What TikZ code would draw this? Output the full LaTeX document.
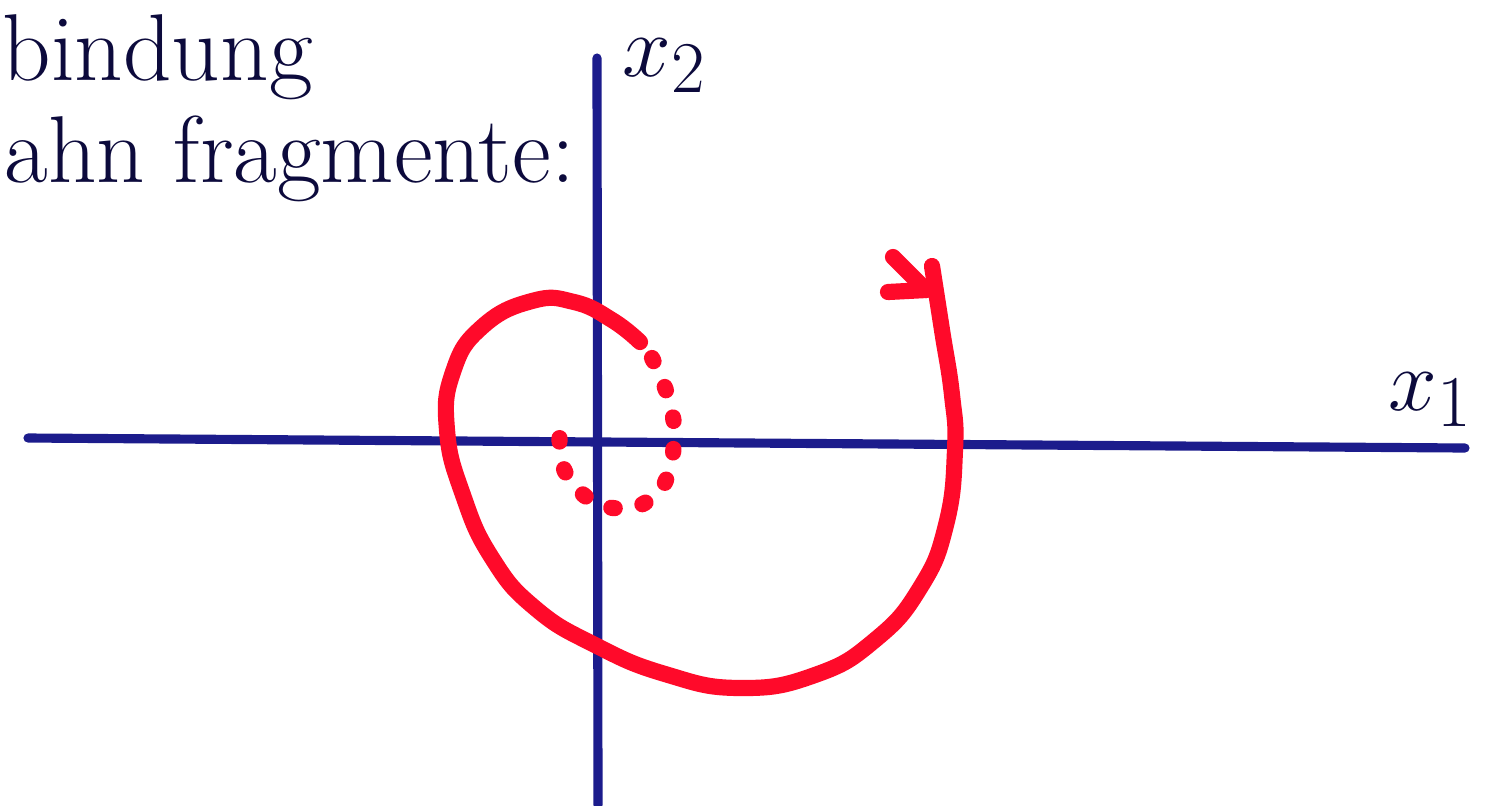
\documentclass[tikz,border=0pt]{standalone}
\usepackage{xcolor}
\usepackage{tikz}
\definecolor{axisblue}{HTML}{1C1C8C}
\definecolor{inkred}{HTML}{FF0A2A}
\definecolor{inkdark}{HTML}{0C0A3C}

\begin{document}
\begin{tikzpicture}[x=0.01cm, y=-0.01cm, >=stealth,
    axis/.style={axisblue, line width=2.6pt, line cap=round},
    orbit/.style={inkred, line width=4.6pt, line cap=round, line join=round},
    handtext/.style={inkdark, anchor=base west, inner sep=0pt, font=\fontsize{27}{31}\selectfont}]
  \useasboundingbox (0,0) rectangle (1496,805);
  % axes
  \coordinate (xleft) at (28,438);
  \coordinate (xright) at (1465,448);
  \coordinate (ytop) at (597,58);
  \coordinate (ybot) at (598,805);
  \draw[axis] (xleft) -- (xright);
  \draw[axis] (ytop) -- (ybot);
  \node[handtext, font=\fontsize{28}{32}\selectfont] (xonelabel) at (1388,410) {$x_1$};
  \node[handtext, font=\fontsize{28}{32}\selectfont] (xtwolabel) at (622,76) {$x_2$};
  % heading
  \node[handtext] (lineone) at (2,80) {bindung};
  \node[handtext] (linetwo) at (4,182) {ahn fragmente:};
  % spiral, solid outer part
  \coordinate (arrowtip) at (926,290);
  \draw[orbit] plot[smooth, tension=0.8] coordinates {(932,266) (942,330) (952,395) (955,450)
    (946,525) (920,588) (875,640) (815,675) (740,688) (665,674) (595,645) (535,608)
    (492,558) (463,495) (447,430) (453,372) (482,327) (532,301) (574,302) (612,320) (640,342)};
  \draw[orbit] (arrowtip) -- (893,257);
  \draw[orbit] (arrowtip) -- (888,292);
  % spiral, dotted inner part
  \draw[orbit, dash pattern=on 1pt off 8pt] plot[smooth, tension=0.8] coordinates {(652,358)
    (664,385) (672,412) (674,440) (668,475) (652,498) (625,508) (595,502) (572,482)
    (561,458) (560,428)};
\end{tikzpicture}
\end{document}
